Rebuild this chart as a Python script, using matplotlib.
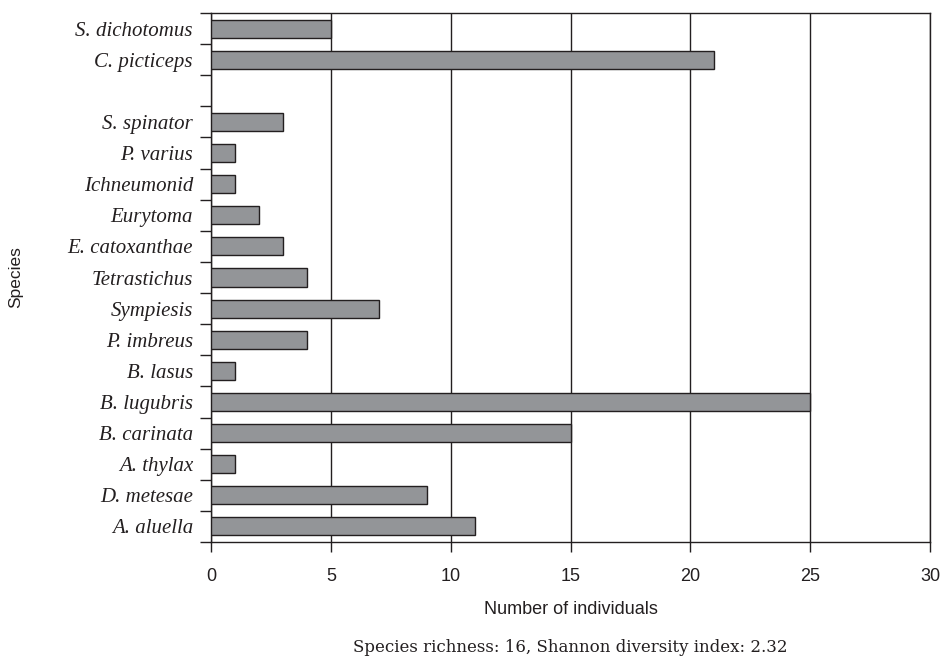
import matplotlib
matplotlib.use("Agg")
import matplotlib.pyplot as plt
import numpy as np

# top to bottom, "" marks the empty slot between the two groups
species = ["S. dichotomus", "C. picticeps", "",
           "S. spinator", "P. varius", "Ichneumonid", "Eurytoma",
           "E. catoxanthae", "Tetrastichus", "Sympiesis", "P. imbreus",
           "B. lasus", "B. lugubris", "B. carinata", "A. thylax",
           "D. metesae", "A. aluella"]
counts = [5, 21, 0,
          3, 1, 1, 2,
          3, 4, 7, 4,
          1, 25, 15, 1,
          9, 11]
x_ticks = [0, 5, 10, 15, 20, 25, 30]

BAR_FC = "#939598"
EDGE = "#231f20"

fig = plt.figure(figsize=(9.43, 6.59), dpi=100)
ax = fig.add_axes([0.2238, 0.1775, 0.7624, 0.8028])

n = len(species)
ypos = np.arange(n)[::-1]
for y, v, name in zip(ypos, counts, species):
    if name:
        ax.barh(y, v, height=0.58, color=BAR_FC, edgecolor=EDGE, linewidth=1.0, zorder=3)

ax.set_ylim(-0.5, n - 0.5)
ax.set_xlim(0, 30)

# x axis
ax.set_xticks(x_ticks)
ax.set_xticklabels([str(t) for t in x_ticks], family="Liberation Sans", fontsize=13)
ax.tick_params(axis="x", direction="out", length=7, width=1.0, color=EDGE,
               pad=12, labelcolor=EDGE)
ax.grid(axis="x", color=EDGE, linewidth=1.0, zorder=1)
ax.set_xlabel("Number of individuals", family="Liberation Sans", fontsize=13,
              color=EDGE, labelpad=11)

# y axis: labels at slot centres, tick marks at slot boundaries
ax.set_yticks(ypos)
ax.set_yticklabels(species, family="Liberation Serif", style="italic", fontsize=15,
                   color=EDGE)
ax.tick_params(axis="y", which="major", length=0, pad=13)
ax.set_yticks(np.arange(-0.5, n, 1.0), minor=True)
ax.tick_params(axis="y", which="minor", direction="out", length=8, width=1.0, color=EDGE)
ax.set_ylabel("Species", family="Liberation Sans", fontsize=12.5, color=EDGE)
ax.yaxis.set_label_coords(-0.261, 0.5)

for side in ["top", "right", "bottom", "left"]:
    ax.spines[side].set_color(EDGE)
    ax.spines[side].set_linewidth(1.0)

fig.text(0.605, 0.004, "Species richness: 16, Shannon diversity index: 2.32",
         family="DejaVu Serif", fontsize=12, color=EDGE, ha="center", va="bottom")

fig.savefig("out.png", dpi=100)
